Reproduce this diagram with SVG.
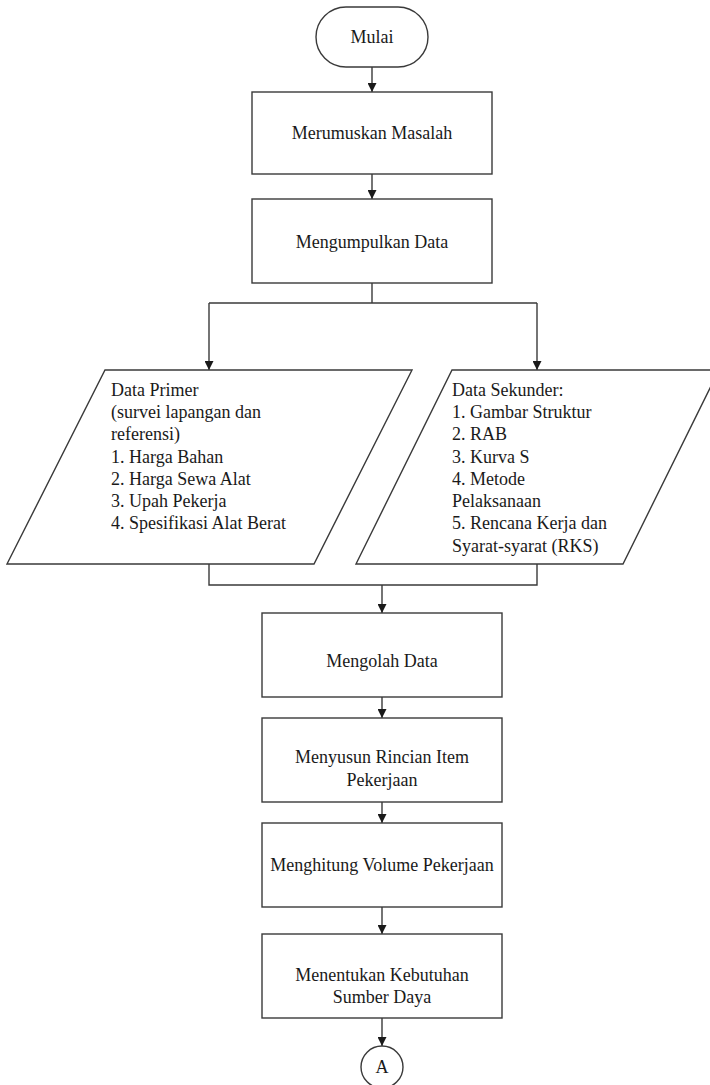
<svg xmlns="http://www.w3.org/2000/svg" width="710" height="1085" viewBox="0 0 710 1085">
<style>
.s{fill:#fff;stroke:#3a3a3a;stroke-width:1.4}
.c{fill:none;stroke:#3a3a3a;stroke-width:1.4}
text{font-family:"Liberation Serif","Times New Roman",serif;font-size:18px;fill:#1a1a1a}
.m{text-anchor:middle;dominant-baseline:central}
</style>
<defs>
<marker id="ah" viewBox="0 0 10 10" refX="10" refY="5" markerWidth="9" markerHeight="9" markerUnits="userSpaceOnUse" orient="auto">
<path d="M0,0 L10,5 L0,10 Z" fill="#1a1a1a"/>
</marker>
</defs>
<rect width="710" height="1085" fill="#fff"/>
<g id="connectors">
<line class="c" x1="372" y1="67" x2="372" y2="92" marker-end="url(#ah)"/>
<line class="c" x1="372" y1="174" x2="372" y2="199" marker-end="url(#ah)"/>
<line class="c" x1="372" y1="283" x2="372" y2="303"/>
<line class="c" x1="209" y1="303" x2="537" y2="303"/>
<line class="c" x1="209" y1="303" x2="209" y2="370" marker-end="url(#ah)"/>
<line class="c" x1="537" y1="303" x2="537" y2="370" marker-end="url(#ah)"/>
<polyline class="c" points="209,564 209,585 537,585 537,564"/>
<line class="c" x1="382" y1="585" x2="382" y2="613" marker-end="url(#ah)"/>
<line class="c" x1="382" y1="697" x2="382" y2="718" marker-end="url(#ah)"/>
<line class="c" x1="382" y1="802" x2="382" y2="823" marker-end="url(#ah)"/>
<line class="c" x1="382" y1="907" x2="382" y2="934" marker-end="url(#ah)"/>
<line class="c" x1="382" y1="1018" x2="382" y2="1046" marker-end="url(#ah)"/>
</g>
<g id="mulai">
<rect class="s" x="316" y="7" width="112" height="60" rx="30" ry="30"/>
<text class="m" x="372" y="37">Mulai</text>
</g>
<g id="merumuskan">
<rect class="s" x="252" y="92" width="240" height="82"/>
<text class="m" x="372" y="133">Merumuskan Masalah</text>
</g>
<g id="mengumpulkan">
<rect class="s" x="252" y="199" width="240" height="84"/>
<text class="m" x="372" y="242">Mengumpulkan Data</text>
</g>
<g id="data-primer">
<polygon class="s" points="105,370 412,370 314,564 7,564"/>
<text x="111" y="396">Data Primer</text>
<text x="111" y="418">(survei lapangan dan</text>
<text x="111" y="440">referensi)</text>
<text x="111" y="463">1. Harga Bahan</text>
<text x="111" y="485">2. Harga Sewa Alat</text>
<text x="111" y="507">3. Upah Pekerja</text>
<text x="111" y="529">4. Spesifikasi Alat Berat</text>
</g>
<g id="data-sekunder">
<polygon class="s" points="452,370 719,370 623,564 356,564"/>
<text x="452" y="396">Data Sekunder:</text>
<text x="452" y="418">1. Gambar Struktur</text>
<text x="452" y="440">2. RAB</text>
<text x="452" y="463">3. Kurva S</text>
<text x="452" y="485">4. Metode</text>
<text x="452" y="507">Pelaksanaan</text>
<text x="452" y="529">5. Rencana Kerja dan</text>
<text x="452" y="552">Syarat-syarat (RKS)</text>
</g>
<g id="mengolah">
<rect class="s" x="262" y="613" width="240" height="84"/>
<text class="m" x="382" y="661">Mengolah Data</text>
</g>
<g id="menyusun">
<rect class="s" x="262" y="718" width="240" height="84"/>
<text class="m" x="382" y="757">Menyusun Rincian Item</text>
<text class="m" x="382" y="780">Pekerjaan</text>
</g>
<g id="menghitung">
<rect class="s" x="262" y="823" width="240" height="84"/>
<text class="m" x="382" y="865">Menghitung Volume Pekerjaan</text>
</g>
<g id="menentukan">
<rect class="s" x="262" y="934" width="240" height="84"/>
<text class="m" x="382" y="975">Menentukan Kebutuhan</text>
<text class="m" x="382" y="997">Sumber Daya</text>
</g>
<g id="connector-a">
<circle class="s" cx="382" cy="1067" r="21"/>
<text class="m" x="382" y="1067">A</text>
</g>
</svg>
